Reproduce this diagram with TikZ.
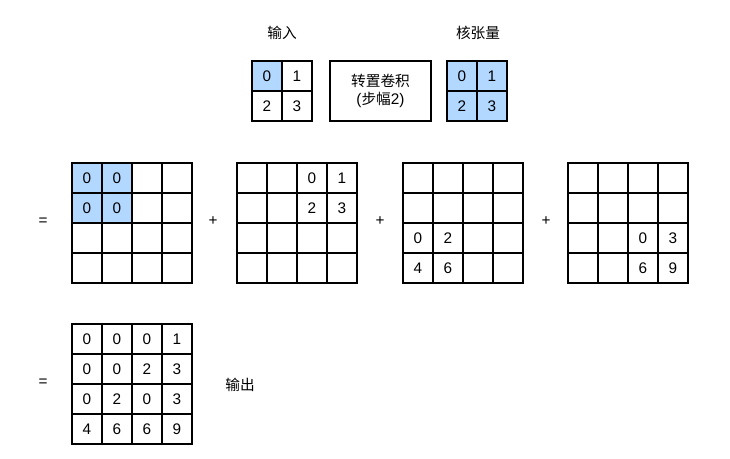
\documentclass[tikz,border=0pt]{standalone}
\usepackage{fontspec}
\setmainfont{Liberation Sans}
\newfontfamily\cjk{Noto Sans CJK SC}
\usetikzlibrary{matrix}
\definecolor{kblue}{RGB}{179,216,255}

\begin{document}
\begin{tikzpicture}[x=0.75pt,y=0.75pt,font=\fontsize{11.5}{13}\selectfont]
\tikzstyle{grid} = [matrix of nodes, nodes in empty cells,
column sep=-1pt, row sep=-1pt,
nodes={draw, line width=1pt, minimum size=22.5pt, inner sep=0pt, anchor=center}]
\tikzstyle{hl} = [fill=kblue]
\tikzstyle{conv} = [rectangle, draw, line width=1pt, minimum width=75.75pt,
minimum height=45pt, align=center]
\tikzstyle{label} = [font=\cjk\fontsize{11}{13}\selectfont]
\useasboundingbox (0,0) rectangle (730,-458);
% top row
\node [label] (lin) at (282,-33) {输入};
\node [label] (lker) at (478,-33) {核张量};
\matrix (in) [grid] at (282,-91)
{
|[hl]| 0 & 1 \\
2 & 3 \\
};
\node [conv] (tconv) at (380.5,-91) {{\cjk\fontsize{11}{13}\selectfont 转置卷积}\\[1pt]({\cjk\fontsize{11}{13}\selectfont 步幅}2)};
\matrix (ker) [grid, nodes={fill=kblue}] at (477,-91)
{
0 & 1 \\
2 & 3 \\
};
% partial results
\node (eq1) at (43,-222) {=};
\matrix (p0) [grid] at (132,-223)
{
|[hl]| 0 & |[hl]| 0 & & \\
|[hl]| 0 & |[hl]| 0 & & \\
 & & & \\
 & & & \\
};
\node (plus1) at (213,-221) {+};
\matrix (p1) [grid] at (297,-223)
{
 & & 0 & 1 \\
 & & 2 & 3 \\
 & & & \\
 & & & \\
};
\node (plus2) at (380,-221) {+};
\matrix (p2) [grid] at (463,-223)
{
 & & & \\
 & & & \\
0 & 2 & & \\
4 & 6 & & \\
};
\node (plus3) at (546,-221) {+};
\matrix (p3) [grid] at (628,-223)
{
 & & & \\
 & & & \\
 & & 0 & 3 \\
 & & 6 & 9 \\
};
% output
\node (eq2) at (43,-383) {=};
\matrix (out) [grid] at (132,-384)
{
0 & 0 & 0 & 1 \\
0 & 0 & 2 & 3 \\
0 & 2 & 0 & 3 \\
4 & 6 & 6 & 9 \\
};
\node [label] (lout) at (240,-385) {输出};
\end{tikzpicture}
\end{document}
